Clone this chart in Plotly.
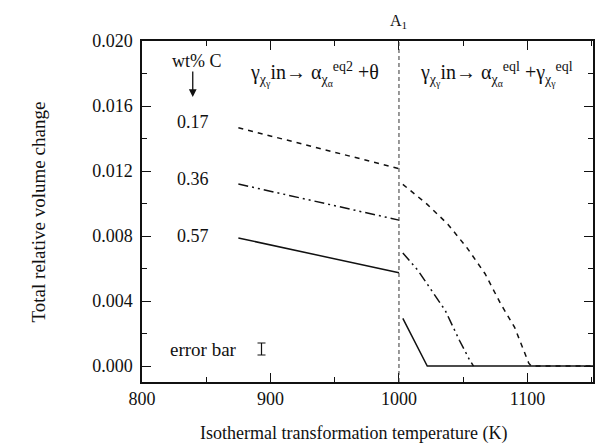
import plotly.graph_objects as go

# ---- data ----
c017_low_x = [875, 1000]
c017_low_y = [0.01466, 0.01215]
c017_high_x = [1003, 1022, 1038, 1053, 1067, 1079, 1090, 1101, 1103, 1151]
c017_high_y = [0.01118, 0.00995, 0.00873, 0.00727, 0.00568, 0.00385, 0.00238, 0.00018, 0.0, 0.0]

c036_low_x = [875, 1000]
c036_low_y = [0.0112, 0.00898]
c036_high_x = [1003, 1015, 1036, 1047, 1055, 1058]
c036_high_y = [0.00696, 0.00586, 0.00342, 0.00159, 0.00037, 0.0]

c057_low_x = [875, 1000]
c057_low_y = [0.00788, 0.00574]
c057_high_x = [1003, 1022, 1151]
c057_high_y = [0.00293, 0.0, 0.0]

a1_temp = 1000
errbar_x = [893]
errbar_y = [0.00105]
errbar_half = [0.00037]

x_ticks = [800, 900, 1000, 1100]
y_ticks = [0.000, 0.004, 0.008, 0.012, 0.016, 0.020]
y_tick_text = ["0.000", "0.004", "0.008", "0.012", "0.016", "0.020"]

FONT = "Liberation Serif, Times New Roman, serif"
BLK = "#111111"

fig = go.Figure()

def add_line(x, y, dash):
    fig.add_trace(go.Scatter(x=x, y=y, mode="lines",
                             line=dict(color=BLK, width=1.5, dash=dash),
                             showlegend=False, hoverinfo="skip"))

dash17 = "5px,5px"
dash36 = "10px,4px,2px,4px,2px,4px"
add_line(c017_low_x, c017_low_y, dash17)
add_line(c017_high_x, c017_high_y, dash17)
add_line(c036_low_x, c036_low_y, dash36)
add_line(c036_high_x, c036_high_y, dash36)
add_line(c057_low_x, c057_low_y, "solid")
add_line(c057_high_x, c057_high_y, "solid")

# error bar symbol
fig.add_trace(go.Scatter(x=errbar_x, y=errbar_y, mode="markers",
                         marker=dict(size=0.1, color=BLK),
                         error_y=dict(type="data", array=errbar_half, visible=True,
                                      color=BLK, thickness=1.2, width=4),
                         showlegend=False, hoverinfo="skip"))

# A1 vertical dashed line
fig.add_shape(type="line", x0=a1_temp, x1=a1_temp, xref="x", yref="paper", y0=0, y1=1,
              line=dict(color="#333333", width=1, dash="4px,3px"))

ann_font = dict(family=FONT, size=18, color=BLK)
big_font = dict(family=FONT, size=20, color=BLK)
fig.add_annotation(x=a1_temp, y=1, xref="x", yref="paper", yanchor="bottom", yshift=8,
                   text="A<sub>1</sub>", showarrow=False, font=dict(family=FONT, size=16, color=BLK))
fig.add_annotation(x=842.6, y=0.01877, text="wt% C", showarrow=False, font=ann_font)
fig.add_annotation(x=839.5, y=0.01655, ax=0, ay=-27, text="", showarrow=True,
                   arrowhead=2, arrowsize=1.2, arrowwidth=1.3, arrowcolor=BLK)
fig.add_annotation(x=839.5, y=0.0150, text="0.17", showarrow=False, font=ann_font)
fig.add_annotation(x=839.5, y=0.0115, text="0.36", showarrow=False, font=ann_font)
fig.add_annotation(x=839.5, y=0.0080, text="0.57", showarrow=False, font=ann_font)
fig.add_annotation(x=848, y=0.00105, text="error bar", showarrow=False,
                   font=dict(family=FONT, size=19, color=BLK))

fig.add_annotation(x=934, y=0.0180, showarrow=False, font=big_font,
                   text="γ<sub>χ<sub>γ</sub></sub>in→ α<sub>χ<sub>α</sub></sub><sup>eq2</sup> +θ")
fig.add_annotation(x=1076, y=0.0180, showarrow=False, font=big_font,
                   text="γ<sub>χ<sub>γ</sub></sub>in→ α<sub>χ<sub>α</sub></sub><sup>eql</sup> +γ<sub>χ<sub>γ</sub></sub><sup>eql</sup>")

# axis titles
fig.add_annotation(x=-0.2296, y=0.4985, xref="paper", yref="paper", textangle=-90,
                   xanchor="center", yanchor="middle",
                   text="Total relative volume change", showarrow=False,
                   font=dict(family=FONT, size=19, color=BLK))
fig.add_annotation(x=0.468, y=-0.150, xref="paper", yref="paper",
                   xanchor="center", yanchor="middle",
                   text="Isothermal transformation temperature (K)", showarrow=False,
                   font=dict(family=FONT, size=18, color=BLK))

axis_common = dict(showline=True, linecolor=BLK, linewidth=1.5, mirror="ticks",
                   ticks="inside", ticklen=9, tickwidth=1.2, tickcolor=BLK,
                   showgrid=False, zeroline=False,
                   tickfont=dict(family=FONT, size=18, color=BLK))

fig.update_xaxes(range=[800, 1151], tickvals=x_ticks,
                 minor=dict(dtick=50, ticks="inside", ticklen=5, tickcolor=BLK, tickwidth=1),
                 **axis_common)
fig.update_yaxes(range=[-0.00098, 0.020], tickvals=y_ticks, ticktext=y_tick_text,
                 ticklabelstandoff=4,
                 minor=dict(dtick=0.002, tick0=0, ticks="inside", ticklen=5, tickcolor=BLK, tickwidth=1),
                 **axis_common)

fig.update_layout(width=595, height=448, margin=dict(l=142, r=0, t=41, b=66),
                  paper_bgcolor="white", plot_bgcolor="white",
                  font=dict(family=FONT, size=18, color=BLK))

fig.write_html("out.html")
